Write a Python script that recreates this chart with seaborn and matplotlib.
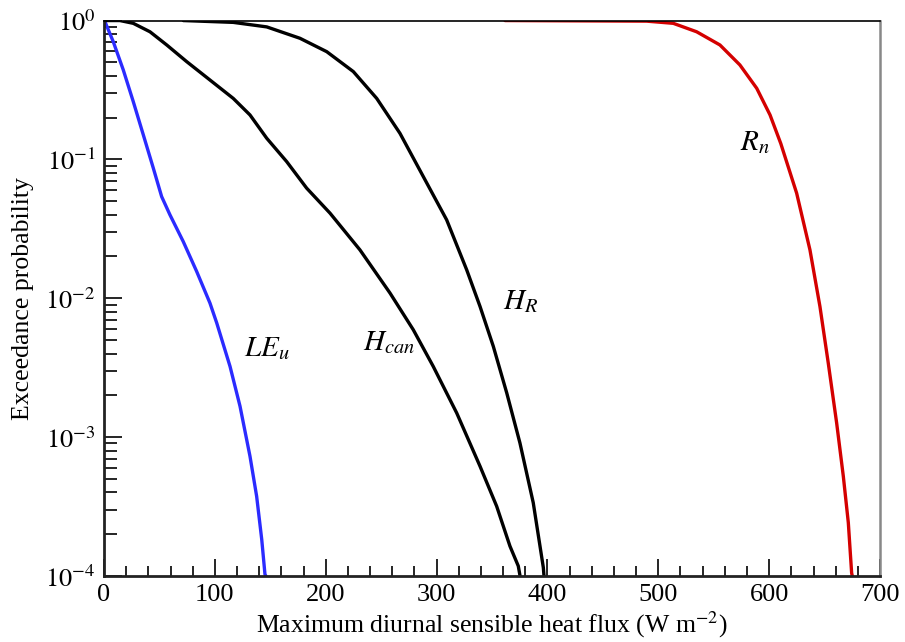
import numpy as np
import pandas as pd
import matplotlib
matplotlib.use("Agg")
import matplotlib.pyplot as plt
from matplotlib.ticker import MultipleLocator, LogLocator, FixedLocator, NullFormatter
import seaborn as sns

# Exceedance curves: flux (W m-2) and exceedance probability
le_flux = [0, 0.9, 8.4, 17.4, 26.4, 35.5, 44.5, 52.0, 59.5, 71.5, 83.6, 95.6,
           101.7, 113.7, 122.7, 131.7, 137.7, 142.3, 145.2, 146.0]
le_prob = [1.0, 0.98, 0.703, 0.441, 0.261, 0.150, 0.0865, 0.054, 0.0399, 0.0256,
           0.0156, 0.00923, 0.00664, 0.00323, 0.00167, 0.000728, 0.000375,
           0.000183, 0.000103, 0.0001]

hcan_flux = [0, 14.4, 26.4, 41.5, 56.6, 74.6, 95.6, 116.6, 131.7, 146.8, 164.8,
             182.8, 203.9, 230.9, 258.0, 279.0, 297.0, 318.2, 339.2, 354.2,
             366.2, 373.7, 375.3]
hcan_prob = [1.0, 1.0, 0.955, 0.83, 0.667, 0.506, 0.373, 0.275, 0.209, 0.142,
             0.0964, 0.0621, 0.041, 0.0223, 0.0109, 0.00593, 0.00323, 0.00149,
             0.000617, 0.000318, 0.000164, 0.000118, 0.0001]

hr_flux = [71.5, 116.6, 146.8, 176.8, 200.9, 224.9, 246.0, 267.0, 289.6, 309.1,
           327.2, 339.2, 351.2, 363.3, 375.2, 387.2, 393.3, 396.3, 396.9]
hr_prob = [1.0, 0.97, 0.90, 0.745, 0.597, 0.429, 0.275, 0.154, 0.0713, 0.0367,
           0.016, 0.00873, 0.0045, 0.00208, 0.000908, 0.000337, 0.000164,
           0.000115, 0.0001]

rn_flux = [361.7, 489.5, 513.5, 534.6, 555.6, 573.6, 588.8, 600.8, 610.5, 624.8,
           636.8, 645.8, 653.3, 660.9, 666.9, 671.4, 674.4, 675.0]
rn_prob = [1.0, 0.99, 0.955, 0.83, 0.667, 0.479, 0.325, 0.209, 0.13, 0.0571,
           0.0223, 0.00873, 0.00342, 0.00126, 0.000522, 0.000242, 0.000105, 0.0001]

series = ["LE_u", "H_can", "H_R", "R_n"]
labels = [r"$LE_u$", r"$H_{can}$", r"$H_R$", r"$R_n$"]
label_x = [126, 234, 360, 574]
label_y = [10 ** -2.42, 10 ** -2.37, 10 ** -2.08, 10 ** -0.93]

frames = []
for name, xs, ps in zip(series,
                        [le_flux, hcan_flux, hr_flux, rn_flux],
                        [le_prob, hcan_prob, hr_prob, rn_prob]):
    frames.append(pd.DataFrame({"flux": xs, "prob": ps, "series": name}))
df = pd.concat(frames, ignore_index=True)

sns.set_style("white")
plt.rcParams["font.family"] = ["Liberation Serif", "DejaVu Serif"]
plt.rcParams["mathtext.fontset"] = "stix"
plt.rcParams["text.color"] = "black"
plt.rcParams["axes.labelcolor"] = "black"

fig = plt.figure(figsize=(9.05, 6.42), dpi=100)
ax = fig.add_axes([0.1149, 0.1028, 0.8575, 0.8652])

palette = {"LE_u": "#2b2bff", "H_can": "black", "H_R": "black", "R_n": "#d40000"}
sns.lineplot(data=df, x="flux", y="prob", hue="series", palette=palette,
             units="series", estimator=None, sort=False, linewidth=2.4,
             legend=False, ax=ax)
for line in ax.get_lines():
    line.set_solid_joinstyle("round")

ax.set_yscale("log")
ax.set_xlim(0, 700)
ax.set_ylim(1e-4, 1)

ax.xaxis.set_major_locator(MultipleLocator(100))
ax.xaxis.set_minor_locator(MultipleLocator(20))
ax.yaxis.set_major_locator(FixedLocator([1e-4, 1e-3, 1e-2, 1e-1, 1]))
ax.set_yticklabels([r"$10^{-4}$", r"$10^{-3}$", r"$10^{-2}$", r"$10^{-1}$", r"$10^{0}$"])
ax.yaxis.set_minor_locator(LogLocator(base=10, subs=np.arange(2, 10)))
ax.yaxis.set_minor_formatter(NullFormatter())

ax.tick_params(axis="both", which="both", direction="in", bottom=True, left=True,
               top=False, right=False, labelsize=19, colors="black", width=1.2)
ax.tick_params(axis="x", which="major", length=12, pad=6)
ax.tick_params(axis="x", which="minor", length=7)
ax.tick_params(axis="y", which="major", length=13, pad=6)
ax.tick_params(axis="y", which="minor", length=9)

for side in ["left", "bottom"]:
    ax.spines[side].set_color("#222222")
    ax.spines[side].set_linewidth(2.0)
ax.spines["top"].set_color("black")
ax.spines["top"].set_linewidth(1.2)
ax.spines["right"].set_color("#888888")
ax.spines["right"].set_linewidth(1.8)

ax.set_xlabel(r"Maximum diurnal sensible heat flux (W m$^{-2}$)", fontsize=18.5, labelpad=2)
ax.set_ylabel("Exceedance probability", fontsize=18.5, labelpad=8)

for txt, x, y in zip(labels, label_x, label_y):
    ax.text(x, y, txt, fontsize=21, ha="left", va="baseline")

fig.savefig("out.png", dpi=100)
